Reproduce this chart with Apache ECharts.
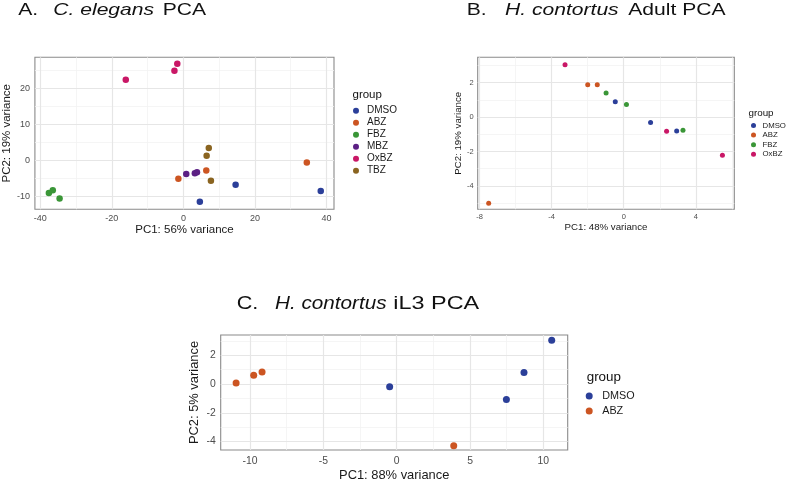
<!DOCTYPE html>
<html>
<head>
<meta charset="utf-8">
<script src="https://cdn.jsdelivr.net/npm/echarts@6/dist/echarts.min.js"></script>
<style>html,body{margin:0;padding:0;background:#fff}#c{width:787px;height:483px}</style>
</head>
<body>
<div id="c"></div>
<script>
// ---------- data ----------
const aGroups = ['DMSO', 'ABZ', 'FBZ', 'MBZ', 'OxBZ', 'TBZ'];
const aDMSO = [[4.6, -11.5], [14.6, -6.8], [38.4, -8.5]];
const aABZ  = [[-1.4, -5.1], [6.4, -2.8], [34.5, -0.6]];
const aFBZ  = [[-37.6, -9.1], [-36.5, -8.3], [-34.6, -10.6]];
const aMBZ  = [[0.8, -3.8], [3.2, -3.6], [3.8, -3.3]];
const aOxBZ = [[-16.1, 22.4], [-2.5, 24.9], [-1.7, 26.8]];
const aTBZ  = [[7.1, 3.4], [6.5, 1.3], [7.7, -5.7]];
const aXTicks = [-40, -20, 0, 20, 40];
const aYTicks = [-10, 0, 10, 20];

const bGroups = ['DMSO', 'ABZ', 'FBZ', 'OxBZ'];
const bDMSO = [[-0.47, 0.89], [1.49, -0.31], [2.94, -0.81]];
const bABZ  = [[-7.5, -5.01], [-2.0, 1.89], [-1.47, 1.89]];
const bFBZ  = [[-0.98, 1.41], [0.15, 0.74], [3.29, -0.76]];
const bOxBZ = [[-3.26, 3.05], [2.38, -0.82], [5.48, -2.21]];
const bXTicks = [-8, -4, 0, 4];
const bYTicks = [-4, -2, 0, 2];

const cGroups = ['DMSO', 'ABZ'];
const cDMSO = [[-0.48, -0.18], [7.48, -1.07], [8.68, 0.80], [10.57, 3.06]];
const cABZ  = [[-10.95, 0.07], [-9.75, 0.62], [-9.18, 0.84], [3.89, -4.29]];
const cXTicks = [-10, -5, 0, 5, 10];
const cYTicks = [-4, -2, 0, 2];

const groupColors = {DMSO: '#2b3f99', ABZ: '#cc5522', FBZ: '#3a9637', MBZ: '#5c2084', OxBZ: '#c91766', TBZ: '#8a6420'};

// ---------- layout ----------
const FONT = 'Liberation Sans, Arial, sans-serif';
const panels = [
  {grid: {left: 33.3, top: 57.3, width: 300.7, height: 152}, xr: [-41.5, 42.1], yr: [-13.6, 28.6],
   xt: aXTicks, yt: aYTicks, groups: aGroups, data: [aDMSO, aABZ, aFBZ, aMBZ, aOxBZ, aTBZ],
   sym: 6.5, tickFs: 9, nameFs: 11.5, xName: 'PC1: 56% variance', yName: 'PC2: 19% variance',
   xGap: 14.5, yGap: 21.5, xMargin: 4.5, yMargin: 5,
   legend: {left: 353, top: 104.7, iw: 12, ih: 6, fs: 10, lh: 12}},
  {grid: {left: 477.7, top: 57.3, width: 256.6, height: 152}, xr: [-8.11, 6.14], yr: [-5.36, 3.48],
   xt: bXTicks, yt: bYTicks, groups: bGroups, data: [bDMSO, bABZ, bFBZ, bOxBZ],
   sym: 5, tickFs: 7.5, nameFs: 9.7, xName: 'PC1: 48% variance', yName: 'PC2: 19% variance',
   xGap: 13.5, yGap: 14.5, xMargin: 4, yMargin: 4,
   legend: {left: 751, top: 120.7, iw: 8, ih: 5, fs: 7.8, lh: 9.6}},
  {grid: {left: 220.7, top: 335, width: 347, height: 117}, xr: [-12.0, 11.66], yr: [-4.59, 3.42],
   xt: cXTicks, yt: cYTicks, groups: cGroups, data: [cDMSO, cABZ],
   sym: 7, tickFs: 10.4, nameFs: 12.9, xName: 'PC1: 88% variance', yName: 'PC2: 5% variance',
   xGap: 19, yGap: 20, xMargin: 6.5, yMargin: 5,
   legend: {left: 585.7, top: 388.5, iw: 16, ih: 7, fs: 10.8, lh: 15}}
];

function minors(ticks, range) {
  const step = ticks[1] - ticks[0];
  const out = [];
  for (let i = -1; i < ticks.length; i++) {
    const v = (i < 0 ? ticks[0] - step : ticks[i]) + step / 2;
    if (v > range[0] && v < range[1]) out.push(v);
  }
  return out;
}

const grids = [], xAxes = [], yAxes = [], series = [], legends = [];
panels.forEach((p, i) => {
  grids.push(Object.assign({show: true, borderColor: '#8a8a8a', borderWidth: 1.1, backgroundColor: '#fff', containLabel: false}, p.grid));
  const common = (ticks, fs, margin) => ({
    axisLine: {show: false},
    splitLine: {show: false},
    axisTick: {show: true, customValues: ticks, length: 3, lineStyle: {color: '#555', width: 1}},
    axisLabel: {customValues: ticks, color: '#4d4d4d', fontSize: fs, fontFamily: FONT, margin: margin},
    nameLocation: 'middle',
    nameTextStyle: {color: '#1a1a1a', fontSize: p.nameFs, fontFamily: FONT}
  });
  xAxes.push(Object.assign({type: 'value', gridIndex: i, min: p.xr[0], max: p.xr[1], name: p.xName, nameGap: p.xGap}, common(p.xt, p.tickFs, p.xMargin)));
  yAxes.push(Object.assign({type: 'value', gridIndex: i, min: p.yr[0], max: p.yr[1], name: p.yName, nameGap: p.yGap}, common(p.yt, p.tickFs, p.yMargin)));
  const minorStyle = {color: '#f2f2f2', width: 0.8, type: 'solid'};
  const majorStyle = {color: '#e6e6e6', width: 1.2, type: 'solid'};
  const lines = [];
  minors(p.xt, p.xr).forEach(v => lines.push({xAxis: v, lineStyle: minorStyle}));
  minors(p.yt, p.yr).forEach(v => lines.push({yAxis: v, lineStyle: minorStyle}));
  p.xt.forEach(v => lines.push({xAxis: v, lineStyle: majorStyle}));
  p.yt.forEach(v => lines.push({yAxis: v, lineStyle: majorStyle}));
  series.push({type: 'scatter', xAxisIndex: i, yAxisIndex: i, data: [], silent: true, z: 1,
    markLine: {silent: true, symbol: 'none', label: {show: false}, animation: false, z: 1,
      lineStyle: {type: 'solid'}, emphasis: {disabled: true}, data: lines}});
  p.groups.forEach((g, k) => {
    series.push({type: 'scatter', name: g, xAxisIndex: i, yAxisIndex: i, data: p.data[k], z: 3,
      symbol: 'circle', symbolSize: p.sym, itemStyle: {color: groupColors[g], opacity: 1}});
  });
  legends.push({orient: 'vertical', left: p.legend.left, top: p.legend.top, data: p.groups, icon: 'circle',
    itemWidth: p.legend.iw, itemHeight: p.legend.ih, itemGap: 0, selectedMode: false, padding: 0,
    textStyle: {fontSize: p.legend.fs, lineHeight: p.legend.lh, color: '#1a1a1a', fontFamily: FONT, padding: 0}});
});

function txt(x, y, text, fs, italic, sx) {
  return {type: 'text', x: x, y: y, scaleX: sx || 1, silent: true,
    style: {text: text, fill: '#111', font: (italic ? 'italic ' : '') + fs + 'px ' + FONT, align: 'left', verticalAlign: 'middle'}};
}
const graphics = [
  txt(18.3, 10, 'A.', 17, false, 1.24), txt(53.3, 10, 'C. elegans', 17, true, 1.24), txt(162.7, 10, 'PCA', 17, false, 1.24),
  txt(466.7, 10, 'B.', 17, false, 1.24), txt(505, 10, 'H. contortus', 17, true, 1.24), txt(628.3, 10, 'Adult PCA', 17, false, 1.24),
  txt(236.7, 304.3, 'C.', 18, false, 1.2), txt(275, 304.3, 'H. contortus', 18, true, 1.15), txt(393.3, 304.3, 'iL3 PCA', 18, false, 1.3),
  txt(352.5, 95, 'group', 11.5, false, 1), txt(748.5, 113.5, 'group', 9.8, false, 1), txt(586.7, 377.7, 'group', 13.4, false, 1)
];

const chart = echarts.init(document.getElementById('c'), null, {renderer: 'canvas'});
chart.setOption({
  animation: false,
  backgroundColor: '#fff',
  grid: grids, xAxis: xAxes, yAxis: yAxes, series: series, legend: legends,
  graphic: graphics
});
</script>
</body>
</html>
